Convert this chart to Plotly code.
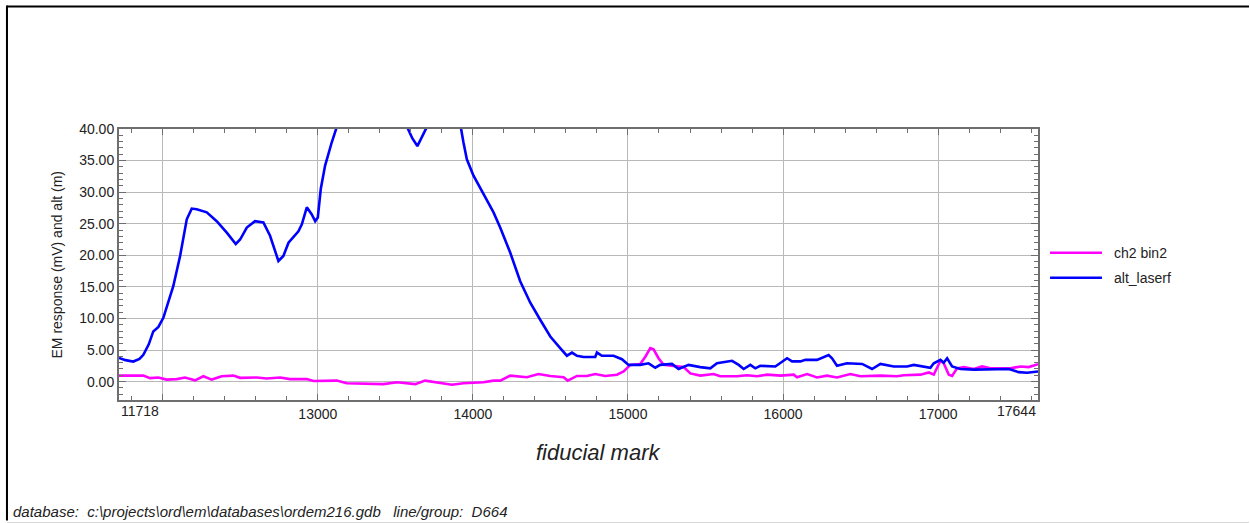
import plotly.graph_objects as go

# ---- profile data -------------------------------------------------------
alt_fid = [11718, 11724, 11760, 11810, 11850, 11875, 11910, 11939, 11972, 12004,
           12035, 12068, 12112, 12155, 12187, 12219, 12284, 12348, 12413, 12471,
           12499, 12542, 12595, 12649, 12692, 12746, 12778, 12811, 12875, 12897,
           12929, 12960, 12983, 13000, 13019, 13047, 13090, 13122, 13200, 13300,
           13420, 13520, 13576, 13610, 13642, 13670, 13703, 13780, 13860, 13900,
           13922, 13939, 13961, 14004, 14068, 14133, 14176, 14241, 14305, 14370,
           14434, 14499, 14563, 14606, 14639, 14671, 14714, 14789, 14800, 14832,
           14907, 14961, 15004, 15079, 15133, 15176, 15208, 15284, 15326, 15391,
           15466, 15531, 15574, 15671, 15714, 15746, 15789, 15821, 15853, 15950,
           16026, 16058, 16112, 16144, 16219, 16294, 16316, 16348, 16413, 16510,
           16574, 16628, 16714, 16800, 16843, 16886, 16950, 16972, 17015, 17036,
           17058, 17090, 17144, 17230, 17456, 17520, 17574, 17644]
alt_laserf = [3.75, 3.7, 3.4, 3.18, 3.6, 4.24, 5.9, 7.95, 8.65, 10.1,
              12.4, 15.1, 19.9, 25.7, 27.4, 27.3, 26.8, 25.4, 23.6, 21.8,
              22.5, 24.4, 25.4, 25.2, 23.1, 19.1, 19.9, 22.0, 23.8, 24.9,
              27.6, 26.5, 25.4, 26.0, 30.5, 34.2, 37.9, 40.3, 44.0, 47.5,
              48.2, 44.5, 40.3, 38.5, 37.3, 38.8, 40.3, 45.5, 46.0, 42.5,
              40.3, 37.9, 35.2, 32.6, 29.7, 26.8, 24.4, 20.4, 15.9, 12.5,
              9.8, 7.15, 5.3, 4.1, 4.6, 4.1, 3.9, 3.9, 4.6, 4.1,
              4.1, 3.55, 2.65, 2.65, 2.9, 2.2, 2.65, 2.8, 2.0, 2.65,
              2.3, 2.1, 2.9, 3.3, 2.65, 2.0, 2.65, 2.1, 2.5, 2.4,
              3.7, 3.2, 3.2, 3.45, 3.45, 4.2, 3.7, 2.5, 2.9, 2.8,
              2.0, 2.8, 2.4, 2.4, 2.65, 2.5, 2.2, 2.9, 3.45, 3.0,
              3.7, 2.4, 2.0, 1.9, 2.0, 1.5, 1.4, 1.6]

ch2_fid = [11718, 11724, 11810, 11875, 11918, 11972, 12025, 12090, 12144, 12208,
           12262, 12316, 12380, 12455, 12499, 12606, 12671, 12757, 12821, 12929,
           12972, 13058, 13122, 13187, 13300, 13423, 13510, 13628, 13692, 13768,
           13865, 13939, 14068, 14133, 14176, 14241, 14305, 14348, 14423, 14499,
           14585, 14611, 14671, 14735, 14789, 14853, 14929, 14972, 15015, 15079,
           15112, 15144, 15165, 15197, 15230, 15294, 15359, 15402, 15466, 15552,
           15595, 15703, 15768, 15832, 15897, 15983, 16069, 16090, 16155, 16219,
           16284, 16348, 16434, 16499, 16628, 16735, 16778, 16886, 16940, 16972,
           17015, 17036, 17069, 17090, 17122, 17165, 17230, 17284, 17337, 17466,
           17531, 17584, 17644]
ch2_bin2 = [0.95, 0.95, 0.85, 0.95, 0.55, 0.65, 0.32, 0.4, 0.65, 0.21,
            0.85, 0.32, 0.85, 0.95, 0.6, 0.65, 0.5, 0.65, 0.4, 0.4,
            0.1, 0.1, 0.16, -0.25, -0.3, -0.4, -0.1, -0.4, 0.16, -0.1,
            -0.5, -0.25, -0.1, 0.16, 0.16, 0.95, 0.85, 0.7, 1.2, 0.9,
            0.7, 0.16, 0.9, 0.9, 1.2, 0.9, 1.1, 1.6, 2.65, 2.8,
            3.95, 5.3, 5.1, 3.7, 2.65, 2.5, 2.3, 1.3, 0.95, 1.2,
            0.85, 0.85, 1.0, 0.85, 1.1, 0.95, 1.1, 0.7, 1.2, 0.65,
            0.95, 0.65, 1.2, 0.85, 0.95, 0.85, 1.0, 1.1, 1.45, 1.1,
            3.3, 2.9, 1.1, 0.9, 2.1, 2.3, 2.0, 2.4, 2.1, 2.1,
            2.4, 2.3, 2.75]

series_names = ["ch2 bin2", "alt_laserf"]
series_colors = ["#ff00ff", "#0000ff"]

x_range = [11718, 17644]
y_range = [-2.91, 40.0]
x_major = [12000, 13000, 14000, 15000, 16000, 17000]
x_major_text = ["", "13000", "14000", "15000", "16000", "17000"]
x_edge_labels = ["11718", "17644"]
y_major = [0, 5, 10, 15, 20, 25, 30, 35, 40]

FONT = "Liberation Sans, Arial, sans-serif"
TEXT_COLOR = "#222222"
AXIS_COLOR = "#6e6e6e"
GRID_COLOR = "#b9b9b9"

fig = go.Figure()
for name, color, xs, ys in [(series_names[0], series_colors[0], ch2_fid, ch2_bin2),
                            (series_names[1], series_colors[1], alt_fid, alt_laserf)]:
    fig.add_trace(go.Scatter(x=xs, y=ys, mode="lines", name=name,
                             line=dict(color=color, width=2.6), showlegend=False))

axis_common = dict(
    showline=True, linecolor=AXIS_COLOR, linewidth=2, mirror="ticks",
    showgrid=True, gridcolor=GRID_COLOR, gridwidth=1,
    ticks="inside", tickcolor=AXIS_COLOR, tickwidth=1,
    zeroline=False,
    tickfont=dict(family=FONT, size=14, color=TEXT_COLOR),
)

fig.update_xaxes(
    range=x_range, tickvals=x_major, ticktext=x_major_text, ticklen=6,
    minor=dict(dtick=200, tick0=12000, ticks="inside", ticklen=4,
               tickcolor=AXIS_COLOR, showgrid=False),
    **axis_common,
)
fig.update_yaxes(
    range=y_range, tickvals=y_major, ticktext=[f"{v:.2f}" for v in y_major],
    ticklen=7,
    minor=dict(dtick=1, tick0=0, ticks="inside", ticklen=4,
               tickcolor=AXIS_COLOR, showgrid=False),
    **axis_common,
)

annotations = [
    # end-of-line fiducial labels
    dict(x=x_range[0], y=0, xref="x", yref="paper", text=x_edge_labels[0],
         xanchor="left", yanchor="top", yshift=-1, showarrow=False,
         font=dict(family=FONT, size=14, color=TEXT_COLOR)),
    dict(x=x_range[1], y=0, xref="x", yref="paper", text=x_edge_labels[1],
         xanchor="right", yanchor="top", yshift=-1, showarrow=False,
         font=dict(family=FONT, size=14, color=TEXT_COLOR)),
    # axis titles
    dict(x=0.5215, y=-0.192, xref="paper", yref="paper", text="<i>fiducial mark</i>",
         xanchor="center", yanchor="middle", showarrow=False,
         font=dict(family=FONT, size=22, color=TEXT_COLOR)),
    dict(x=-0.0675, y=0.5, xref="paper", yref="paper",
         text="EM response (mV) and alt (m)", textangle=-90,
         xanchor="center", yanchor="middle", showarrow=False,
         font=dict(family=FONT, size=14, color=TEXT_COLOR)),
    # footer
    dict(x=-0.1175, y=-0.413, xref="paper", yref="paper",
         text="<i>database:  c:\\projects\\ord\\em\\databases\\ordem216.gdb   line/group:  D664</i>",
         xanchor="left", yanchor="middle", showarrow=False,
         font=dict(family=FONT, size=15, color=TEXT_COLOR)),
]

# page frame: dark top edge, dark left edge (thin filled strip), light bottom edge
FX_R = (1249 - 119) / 919
FY_T, FY_B = 1.452, -0.452
shapes = [
    dict(type="line", xref="paper", yref="paper", x0=-0.1219, x1=FX_R, y0=FY_T, y1=FY_T,
         line=dict(color="black", width=2)),
    dict(type="rect", xref="paper", yref="paper", x0=-0.1230, x1=-0.1208,
         y0=1.4557, y1=-0.445, fillcolor="black", line=dict(width=0)),
    dict(type="line", xref="paper", yref="paper", x0=-0.1219, x1=FX_R, y0=FY_B, y1=FY_B,
         line=dict(color="#d8d8d8", width=1)),
]

# legend keys
legend_y = [0.5435, 0.4513]
for name, color, ly in zip(series_names, series_colors, legend_y):
    shapes.append(dict(type="line", xref="paper", yref="paper", x0=1.0131, x1=1.0696,
                       y0=ly, y1=ly, line=dict(color=color, width=2.5)))
    annotations.append(dict(x=1.0805, y=ly, xref="paper", yref="paper", text=name,
                            xanchor="left", yanchor="middle", showarrow=False,
                            font=dict(family=FONT, size=14, color=TEXT_COLOR)))

fig.update_layout(
    width=1250, height=523,
    margin=dict(l=119, r=212, t=129, b=123),
    paper_bgcolor="white", plot_bgcolor="white",
    showlegend=False,
    annotations=annotations, shapes=shapes,
)

fig.write_html("out.html")
